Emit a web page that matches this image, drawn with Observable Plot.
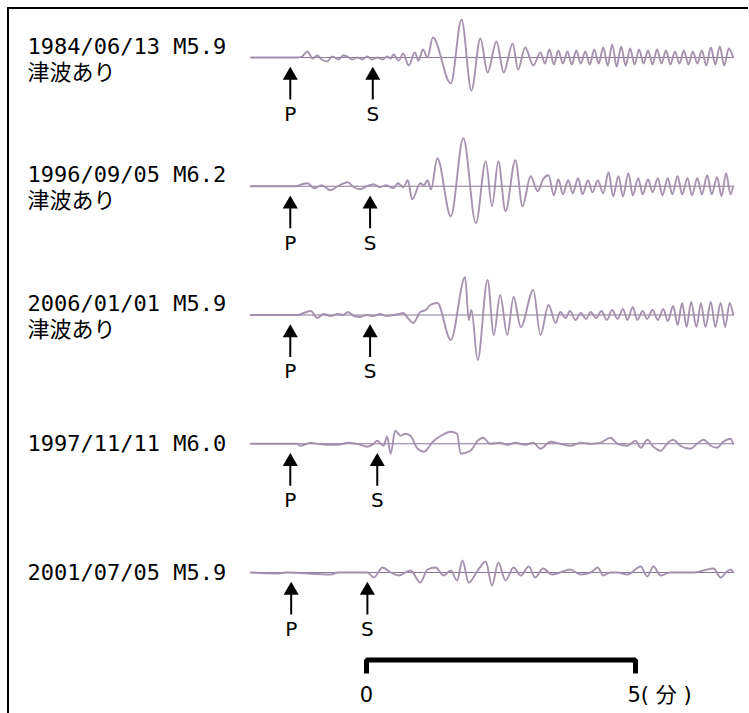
<!DOCTYPE html>
<html>
<head>
<meta charset="utf-8">
<script src="https://cdn.jsdelivr.net/npm/d3@7"></script>
<script src="https://cdn.jsdelivr.net/npm/@observablehq/plot@0.6"></script>
<style>
  html, body { margin: 0; padding: 0; background: #fff; }
  #wrap { position: relative; width: 749px; height: 713px; overflow: hidden; }
  #border { position: absolute; left: 7px; top: 7px; right: 1px; bottom: -4px;
            border-left: 2px solid #000; border-top: 2px solid #000; }
  #chart { position: absolute; left: 0; top: 0; }
</style>
</head>
<body>
<div id="wrap"><div id="border"></div><div id="chart"></div></div>
<script>
// ---- data (time in seconds from the scale-bar origin, amplitude in trace units) ----
const dates = ["1984/06/13", "1996/09/05", "2006/01/01", "1997/11/11", "2001/07/05"];
const mags = ["M5.9", "M6.2", "M5.9", "M6.0", "M5.9"];
const tsunami = [true, true, true, false, false];
const tsunamiText = "津波あり";
const pTimes = [-85, -85, -85, -85, -84];
const sTimes = [7, 4, 4, 12, 1];
const scaleTicks = [0, 300];
const scaleLabels = ["0", "5( 分 )"];

const wave1 = [[-129,0],[-77,0],[-72,1],[-66,6],[-60,-1],[-55,2],[-50,-2],[-44,-4],[-38,1],[-31,-2],[-26,2],[-21,1],[-16,-2],[-10,0],[-5,-2],[1,1],[6,-2],[12,0],[18,-2],[23,1],[27,-1],[30,3],[36,-3],[41,4],[47,-8],[54,5],[58,-3],[63,8],[68,0],[74,20],[94,-26],[106,38],[117,-33],[127,19],[135,-15],[145,16],[153,-15],[163,14],[169,-12],[177,10],[186,-8],
  [194,5],[199,-6],[204,8],[209,-7],[214,7],[219,-6],[224,6],[229,-7],[234,7],[239,-6],[244,6],[249,-7],[254,8],[259,-6],[264,10],[269,-8],[274,13],[279,-9],[284,11],[289,-8],[294,9],[299,-7],[304,8],[309,-6],[314,7],[319,-7],[324,8],[329,-6],[334,7],[339,-7],[344,6],[349,-6],[354,7],[359,-7],[364,6],[369,-6],[374,7],[379,-8],[384,10],[389,-7],[394,11],[399,-8],[404,9],[409,0]];
const wave2 = [[-129,0],[-78,0],[-72,2],[-66,3],[-58,-2],[-50,1],[-40,-4],[-32,0],[-21,4],[-14,-1],[-7,-3],[0,0],[8,2],[15,-1],[22,1],[30,-2],[35,3],[41,-1],[46,6],[51,-13],[60,3],[64,1],[68,6],[72,-3],[79,28],[94,-30],[108,48],[122,-37],[133,25],[140,-20],[147,25],[155,-25],[166,26],[174,-20],[183,10],[191,-5],[197,7],[203,11],[209,-9],[214,7],[219,-8],[225,6],[230,-7],[236,8],[241,-8],[247,6],[252,-6],[258,6],[264,-7],[270,14],[275,-10],[281,10],[286,-10],[292,13],[297,-9],[303,8],[308,-8],[314,7],[319,-6],[325,8],[330,-9],[336,8],[341,-8],[347,10],[352,-8],[358,8],[363,-9],[369,8],[374,-8],[380,11],[385,-8],[391,9],[396,-10],[401,13],[406,-8],[409,0]];
const wave3 = [[-129,0],[-77,0],[-70,2],[-62,4],[-55,-3],[-48,1],[-40,-1],[-32,1],[-26,0],[-21,3],[-14,-1],[-7,-2],[0,0],[8,-1],[15,1],[22,-1],[30,0],[36,1],[41,2],[47,-4],[52,-8],[60,3],[66,5],[71,10],[79,12],[94,-25],[110,38],[114,-5],[117,5],[124,-45],[135,35],[142,-20],[149,20],[157,-20],[164,18],[172,-12],[186,25],[194,-20],[203,10],[211,-8],[216,3],[222,-3],[227,4],[233,-5],[239,2],[245,-4],[250,3],[256,-3],[262,4],[268,-5],[274,5],[280,-4],[286,6],[291,-5],[297,8],[302,-5],[308,4],[313,-4],[319,5],[325,-5],[331,6],[336,-6],[342,9],[347,-10],[352,12],[357,-12],[362,13],[368,-12],[373,12],[378,-12],[384,13],[389,-12],[395,12],[400,-12],[405,12],[409,0]];
const wave4 = [[-129,0],[-77,0],[-74,-2],[-62,1],[-55,0],[-45,-1],[-32,-1],[-20,1],[-7,-1],[1,-3],[8,0],[12,3],[19,-2],[23,7],[27,-10],[32,13],[38,8],[43,10],[49,8],[57,-5],[64,-8],[74,2],[83,8],[94,12],[101,10],[105,-10],[116,-7],[124,3],[130,6],[138,0],[149,1],[157,-1],[166,1],[177,-1],[186,1],[194,-5],[205,2],[216,0],[227,-2],[239,1],[250,0],[261,1],[272,6],[280,0],[291,-2],[300,3],[306,-4],[313,4],[320,-3],[328,-7],[336,1],[342,4],[350,-2],[361,-5],[370,1],[376,4],[384,-2],[391,-4],[398,2],[406,5],[409,0]];
const wave5 = [[-129,0],[-100,-1],[-90,0],[-40,-2],[-32,0],[1,0],[8,-5],[18,5],[27,0],[36,-3],[49,2],[60,-10],[68,3],[77,5],[86,-3],[94,2],[101,-8],[107,12],[114,-10],[124,2],[133,11],[140,-13],[147,10],[155,-8],[164,5],[172,-3],[181,6],[188,-5],[197,4],[207,-2],[216,0],[227,3],[239,-2],[250,0],[258,5],[264,-3],[272,0],[280,0],[291,-2],[306,6],[313,-4],[320,6],[328,-3],[339,0],[365,0],[376,2],[387,4],[395,-5],[402,1],[406,3],[409,0]];

// ---- tables built from the arrays ----
const waves = [wave1, wave2, wave3, wave4, wave5];
const events = dates.map((d, i) => ({row: i, label: `${d} ${mags[i]}`, tsunami: tsunami[i], p: pTimes[i], s: sTimes[i]}));
const rowPx = 128.75;
const traceRows = waves.flatMap((w, i) => w.map(([t, a]) => ({row: i, t, y: i - a / rowPx})));
const phases = events.flatMap(e => [{row: e.row, t: e.p, name: "P"}, {row: e.row, t: e.s, name: "S"}]);
const tStart = d3.min(waves, w => w[0][0]);
const tEnd = d3.max(waves, w => w[w.length - 1][0]);

const barRow = 4.68, tickRow = 4.785;
const bracket = [
  {t: scaleTicks[0], y: tickRow}, {t: scaleTicks[0], y: barRow},
  {t: scaleTicks[1], y: barRow}, {t: scaleTicks[1], y: tickRow}
];

const labelFont = "'DejaVu Sans Mono', 'Noto Sans CJK JP', monospace";
const sansFont = "'DejaVu Sans', 'Noto Sans CJK JP', sans-serif";

const chart = Plot.plot({
  width: 749,
  height: 713,
  margin: 0,
  x: {type: "linear", domain: [0, 300], range: [366, 635], axis: null},
  y: {type: "linear", domain: [0, 4], range: [57, 572], axis: null},
  marks: [
    // baselines
    Plot.ruleY(events, {y: "row", x1: tStart, x2: tEnd, stroke: "#8a7898", strokeWidth: 1.1}),
    // seismograms
    Plot.line(traceRows, {x: "t", y: "y", z: "row", curve: "monotone-x", stroke: "#a18dab", strokeWidth: 1.9, strokeOpacity: 0.95}),
    // event labels
    Plot.text(events.filter(e => !e.tsunami), {y: "row", text: "label", frameAnchor: "left", dx: 27, textAnchor: "start", fontSize: 22, fontFamily: labelFont, fill: "#000"}),
    Plot.text(events.filter(e => e.tsunami), {y: "row", text: "label", frameAnchor: "left", dx: 27, dy: -11, textAnchor: "start", fontSize: 22, fontFamily: labelFont, fill: "#000"}),
    Plot.text(events.filter(e => e.tsunami), {y: "row", text: () => tsunamiText, frameAnchor: "left", dx: 27, dy: 15, textAnchor: "start", fontSize: 22, fontFamily: labelFont, fill: "#000"}),
    // P / S arrows
    Plot.ruleX(phases, {x: "t", y1: "row", y2: d => d.row + 0.33, insetTop: 18, stroke: "#000", strokeWidth: 2}),
    Plot.dot(phases, {x: "t", y: "row", dy: 18, symbol: "triangle", r: 5.6, fill: "#000", stroke: "none"}),
    Plot.text(phases, {x: "t", y: "row", dy: 57, text: "name", fontSize: 20, fontFamily: sansFont, fill: "#000"}),
    // time scale bracket
    Plot.line(bracket, {x: "t", y: "y", stroke: "#000", strokeWidth: 5, strokeLinejoin: "miter", strokeLinecap: "butt"}),
    Plot.text([scaleLabels[0]], {x: () => scaleTicks[0], y: () => 4, dy: 123, text: d => d, fontSize: 21, fontFamily: sansFont, fill: "#000"}),
    Plot.text([scaleLabels[1]], {x: () => scaleTicks[1], y: () => 4, dy: 123, dx: -8, textAnchor: "start", text: d => d, fontSize: 21, fontFamily: sansFont, fill: "#000"})
  ]
});
document.getElementById("chart").appendChild(chart);
</script>
</body>
</html>
